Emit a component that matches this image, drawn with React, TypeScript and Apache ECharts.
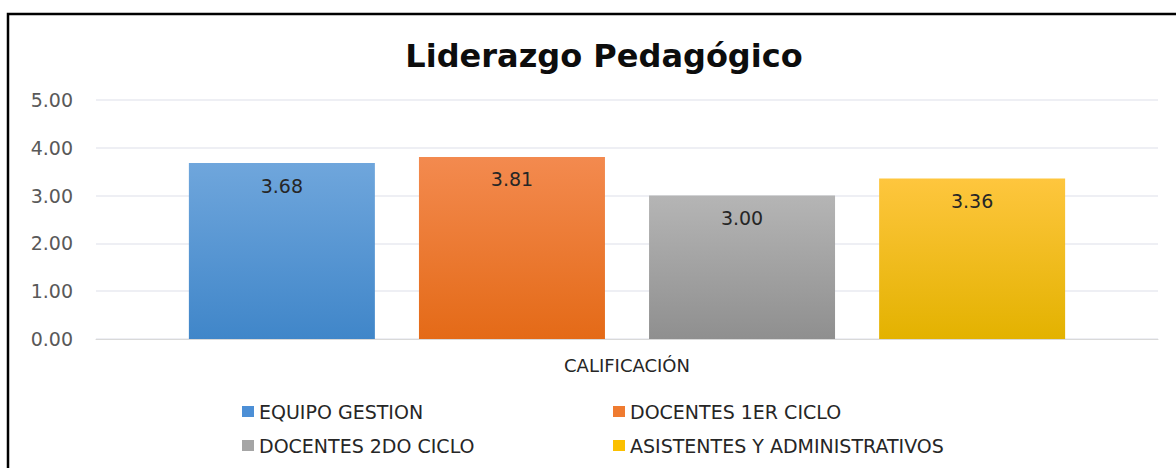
import React, { useEffect, useRef } from "react";
import * as echarts from "echarts";

const categories = ["CALIFICACIÓN"];
const seriesNames = [
  "EQUIPO GESTION",
  "DOCENTES 1ER CICLO",
  "DOCENTES 2DO CICLO",
  "ASISTENTES Y ADMINISTRATIVOS",
];
const equipoGestion = [3.68];
const docentes1erCiclo = [3.81];
const docentes2doCiclo = [3.0];
const asistentes = [3.36];
const yTicks = [0, 1, 2, 3, 4, 5];

const gradients = [
  ["#6FA6DC", "#4086C9"],
  ["#F38A4F", "#E46A17"],
  ["#B5B5B5", "#8F8F8F"],
  ["#FEC63E", "#E3B200"],
];
const legendColors = ["#4C8FD6", "#EF7B30", "#A5A5A5", "#FBC000"];

export default function App() {
  const ref = useRef<HTMLDivElement>(null);
  useEffect(() => {
    if (!ref.current) return;
    const chart = echarts.init(ref.current, undefined, { renderer: "svg" });
    const values = [equipoGestion, docentes1erCiclo, docentes2doCiclo, asistentes];
    const font = "DejaVu Sans";
    chart.setOption({
      animation: false,
      backgroundColor: "#ffffff",
      title: {
        text: "Liderazgo Pedagógico",
        left: 599,
        top: 35,
        textAlign: "center",
        textStyle: { fontFamily: font, fontWeight: "bold", fontSize: 32, color: "#0d0d0d" },
      },
      graphic: [
        {
          type: "rect",
          shape: { x: 8, y: 14, width: 1300, height: 600 },
          style: { fill: "none", stroke: "#000000", lineWidth: 2.5 },
          silent: true,
        },
      ],
      legend: [
        {
          orient: "vertical",
          left: 237,
          top: 397,
          itemWidth: 12,
          itemHeight: 11,
          itemGap: 15,
          icon: "rect",
          data: [
            { name: seriesNames[0], itemStyle: { color: legendColors[0] } },
            { name: seriesNames[2], itemStyle: { color: legendColors[2] } },
          ],
          textStyle: { fontFamily: font, fontSize: 19, color: "#262626" },
        },
        {
          orient: "vertical",
          left: 608,
          top: 397,
          itemWidth: 12,
          itemHeight: 11,
          itemGap: 15,
          icon: "rect",
          data: [
            { name: seriesNames[1], itemStyle: { color: legendColors[1] } },
            { name: seriesNames[3], itemStyle: { color: legendColors[3] } },
          ],
          textStyle: { fontFamily: font, fontSize: 19, color: "#262626" },
        },
      ],
      grid: { left: 96, right: 18, top: 100, bottom: 129, containLabel: false },
      xAxis: {
        type: "category",
        data: categories,
        axisLine: { lineStyle: { color: "#D9D9D9" } },
        axisTick: { show: false },
        axisLabel: { fontFamily: font, fontSize: 18, color: "#262626", margin: 17 },
      },
      yAxis: {
        type: "value",
        min: yTicks[0],
        max: yTicks[yTicks.length - 1],
        interval: 1,
        axisLine: { show: false },
        axisTick: { show: false },
        splitLine: { lineStyle: { color: "#E9EAF0", width: 1.5 } },
        axisLabel: {
          fontFamily: font,
          fontSize: 19,
          color: "#595959",
          margin: 23,
          formatter: (v: number) => v.toFixed(2),
        },
      },
      series: values.map((vals, i) => ({
        type: "bar",
        name: seriesNames[i],
        data: vals,
        barWidth: 186,
        barGap: "23.7%",
        itemStyle: {
          color: new echarts.graphic.LinearGradient(0, 0, 0, 1, [
            { offset: 0, color: gradients[i][0] },
            { offset: 1, color: gradients[i][1] },
          ]),
        },
        label: {
          show: true,
          position: "insideTop",
          distance: 13,
          fontFamily: font,
          fontSize: 19,
          color: "#262626",
          formatter: (p: any) => Number(p.value).toFixed(2),
        },
      })),
    });
    return () => chart.dispose();
  }, []);
  return (
    <div
      ref={ref}
      style={{ position: "absolute", left: 0, top: 0, width: 1176, height: 468 }}
    />
  );
}
